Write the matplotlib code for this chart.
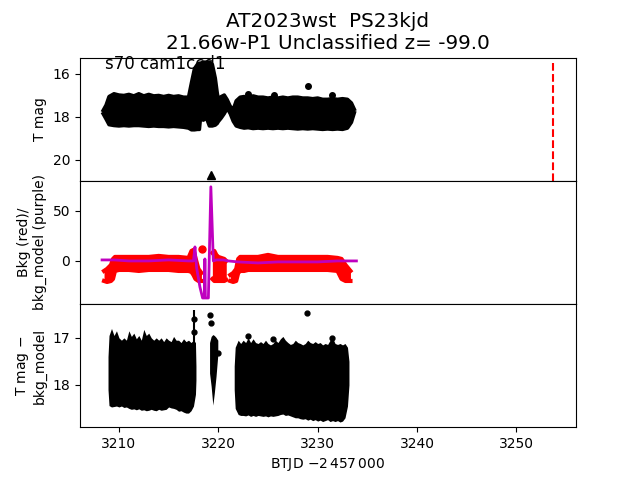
import matplotlib
matplotlib.use("Agg")
import matplotlib.pyplot as plt

# top panel, T mag envelope
t1 = [3208.4, 3208.7, 3209.0, 3209.5, 3210.0, 3210.5, 3211.0, 3211.5, 3212.0, 3212.5, 3213.0, 3213.5, 3214.0,
      3214.5, 3215.0, 3215.5, 3216.0, 3216.5, 3217.0, 3217.3, 3217.6, 3217.9, 3218.1, 3218.2, 3218.5, 3218.8, 3219.1,
      3219.4, 3219.7, 3219.9, 3220.0, 3220.3, 3220.6, 3220.9, 3221.2, 3221.5, 3221.8, 3222.2, 3222.6, 3223.0, 3223.5,
      3224.0, 3224.5, 3225.0, 3225.5, 3226.0, 3226.5, 3227.0, 3227.5, 3228.0, 3228.5, 3229.0, 3229.5, 3230.0,
      3230.5, 3231.0, 3231.5, 3232.0, 3232.5, 3233.0, 3233.4, 3233.7]
t1_hi = [17.7, 17.45, 17.05, 16.92, 16.98, 17.0, 16.95, 17.02, 16.92, 17.02, 16.95, 17.02, 17.0,
         17.05, 17.0, 17.05, 17.02, 17.08, 17.08, 16.4, 15.75, 15.55, 15.5, 15.5, 15.45, 15.45, 15.45,
         15.55, 16.2, 16.9, 17.15, 17.05, 16.98, 17.2, 17.5, 17.65, 17.25, 17.08, 17.05, 17.12, 17.02,
         17.08, 17.08, 17.12, 17.08, 17.12, 17.08, 17.12, 17.08, 17.08, 17.12, 17.12, 17.15, 17.12,
         17.18, 17.18, 17.15, 17.18, 17.15, 17.18, 17.35, 17.65]
t1_lo = [17.85, 18.1, 18.36, 18.4, 18.42, 18.4, 18.42, 18.4, 18.4, 18.42, 18.44, 18.42, 18.44,
         18.44, 18.46, 18.44, 18.46, 18.48, 18.52, 18.6, 18.6, 18.58, 18.58, 18.1, 18.15, 18.05, 18.42,
         18.42, 18.38, 18.3, 18.22, 18.05, 17.85, 17.6, 17.85, 18.2, 18.42, 18.48, 18.52, 18.5, 18.54,
         18.52, 18.54, 18.52, 18.54, 18.52, 18.54, 18.52, 18.54, 18.56, 18.54, 18.56, 18.54, 18.56,
         18.58, 18.56, 18.58, 18.56, 18.58, 18.52, 18.25, 17.8]
t1_out_t = [3223.0, 3225.6, 3229.0, 3231.4]
t1_out_m = [16.92, 16.98, 16.55, 17.0]
lim_t = [3219.3]
lim_m = [20.7]
peak_t = [3253.7, 3253.7]
peak_m = [15.5, 21.0]

# middle panel, background
t2a = [3208.5, 3208.8, 3209.2, 3209.4, 3209.6, 3210.0, 3211.0, 3212.0, 3213.0, 3214.0, 3215.0, 3216.0, 3217.0,
       3217.3, 3217.5, 3217.7, 3218.0, 3218.3]
t2a_hi = [-10, -8, -4, 2, 4, 4, 4, 4, 4, 5, 4, 4, 3, 10, 11, 3, -8, -12]
t2a_lo = [-20, -21, -20, -18, -10, -9, -9, -10, -9, -9, -9, -10, -10, -11, -14, -18, -20, -20]
t2b = [3219.4, 3219.6, 3219.8, 3220.0, 3220.3, 3220.6, 3220.8]
t2b_hi = [8, 10, 6, 4, 3, 2, 0]
t2b_lo = [-18, -20, -20, -20, -20, -20, -19]
t2c = [3221.2, 3221.5, 3221.8, 3222.0, 3222.2, 3222.6, 3223.0, 3224.0, 3225.0, 3226.0, 3227.0, 3228.0, 3229.0,
       3230.0, 3231.0, 3232.0, 3232.4, 3232.8, 3233.3]
t2c_hi = [-14, -12, -8, 2, 4, 4, 4, 4, 6, 4, 4, 4, 4, 4, 4, 3, 2, -4, -10]
t2c_lo = [-20, -21, -20, -12, -10, -10, -9, -9, -9, -9, -9, -9, -9, -9, -9, -10, -18, -20, -20]
red_out_t = [3218.4]
red_out_v = [12]
bkg_t = [3208.3, 3209.5, 3211.0, 3213.0, 3215.0, 3217.0, 3217.5, 3217.65, 3217.82, 3218.15, 3218.42, 3218.6, 3218.65,
         3218.7, 3219.0, 3219.25, 3219.5, 3219.8, 3220.5, 3221.0, 3222.0, 3224.0, 3226.0, 3228.0, 3230.0, 3232.0, 3233.9]
bkg_v = [1, 1, 0, 0, 1, 0, 0, 14, -7, -26, -37, -37, 2, -37, -37, 74, 0, 1, 1, 0, -1, -2, -1, -1, -1, 0, 0]

# bottom panel, T mag minus bkg_model
t3a = [3208.9, 3209.0, 3209.25, 3209.5, 3209.75, 3210.0, 3210.25, 3210.5, 3210.75, 3211.0, 3211.25, 3211.5, 3211.75,
       3212.0, 3212.25, 3212.5, 3212.75, 3213.0, 3213.25, 3213.5, 3213.75, 3214.0, 3214.25, 3214.5, 3214.75, 3215.0,
       3215.25, 3215.5, 3215.75, 3216.0, 3216.25, 3216.5, 3216.75, 3217.0, 3217.25, 3217.5, 3217.7, 3217.75]
t3a_hi = [17.4, 16.95, 16.8, 16.95, 16.85, 17.0, 17.05, 17.0, 17.05, 16.85, 16.97, 16.9, 17.02,
          16.95, 17.05, 16.82, 16.95, 16.9, 17.0, 17.05, 17.0, 17.05, 17.0, 17.08, 17.0, 17.05,
          17.08, 16.97, 17.05, 17.05, 17.1, 17.02, 17.08, 17.05, 17.1, 17.05, 17.1, 17.6]
t3a_lo = [18.1, 18.44, 18.47, 18.46, 18.45, 18.47, 18.45, 18.48, 18.47, 18.5, 18.52, 18.51, 18.53,
          18.51, 18.54, 18.53, 18.55, 18.54, 18.52, 18.54, 18.55, 18.52, 18.54, 18.53, 18.52, 18.47,
          18.49, 18.5, 18.52, 18.56, 18.55, 18.58, 18.6, 18.6, 18.55, 18.45, 18.2, 17.9]
t3b = [3219.12, 3219.28, 3219.45, 3219.6, 3219.77, 3219.95]
t3b_hi = [17.1, 16.97, 16.93, 16.95, 16.99, 17.05]
t3b_lo = [17.75, 18.03, 18.43, 18.17, 17.82, 17.36]
t3c = [3221.6, 3221.7, 3222.0, 3222.25, 3222.5, 3222.75, 3223.0, 3223.25, 3223.5, 3223.75, 3224.0, 3224.25, 3224.5,
       3224.75, 3225.0, 3225.25, 3225.5, 3225.75, 3226.0, 3226.25, 3226.5, 3226.75, 3227.0, 3227.25, 3227.5, 3227.75,
       3228.0, 3228.25, 3228.5, 3228.75, 3229.0, 3229.25, 3229.5, 3229.75, 3230.0, 3230.25, 3230.5, 3230.75, 3231.0,
       3231.25, 3231.5, 3231.75, 3232.0, 3232.25, 3232.5, 3232.75, 3233.0, 3233.15]
t3c_hi = [17.6, 17.2, 17.05, 17.12, 17.05, 17.1, 17.0, 17.1, 17.02, 17.1, 17.12, 17.08, 17.12,
          17.05, 17.12, 17.15, 17.12, 17.05, 17.1, 17.02, 16.97, 17.05, 17.1, 17.14, 17.12, 17.05,
          17.1, 17.12, 17.15, 17.12, 17.05, 17.1, 17.12, 17.08, 17.12, 17.1, 17.15, 17.12, 17.14,
          17.05, 17.0, 17.12, 17.14, 17.12, 17.15, 17.12, 17.2, 17.5]
t3c_lo = [18.1, 18.5, 18.63, 18.65, 18.65, 18.66, 18.64, 18.67, 18.65, 18.67, 18.65, 18.66, 18.67,
          18.66, 18.68, 18.66, 18.67, 18.66, 18.65, 18.63, 18.62, 18.65, 18.64, 18.66, 18.68, 18.7,
          18.7, 18.72, 18.73, 18.72, 18.75, 18.73, 18.76, 18.74, 18.77, 18.75, 18.78, 18.76, 18.74,
          18.78, 18.76, 18.78, 18.76, 18.79, 18.77, 18.7, 18.45, 18.0]
t3_out_t = [3217.55, 3217.55, 3219.12, 3219.28, 3223.0, 3225.5, 3228.94, 3231.4, 3220.0]
t3_out_m = [16.6, 16.87, 16.51, 16.69, 16.95, 17.02, 16.47, 17.0, 17.33]

fig, (ax1, ax2, ax3) = plt.subplots(3, 1, sharex=True)
fig.subplots_adjust(hspace=0)

# top
ax1.fill_between(t1, t1_hi, t1_lo, color="k", lw=0)
ax1.plot(t1, t1_hi, "k-", lw=2.5)
ax1.plot(t1, t1_lo, "k-", lw=2.5)
ax1.plot(t1_out_t, t1_out_m, "ko", ms=4)
ax1.plot(lim_t, lim_m, "k^", ms=6)
ax1.plot(peak_t, peak_m, "r--")
ax1.set_xlim(3206.08, 3256)
ax1.set_ylim(20.97, 15.24)
ax1.set_yticks([16, 18, 20])
ax1.set_ylabel("T mag")
ax1.text(3208.6, 15.75, "s70 cam1ccd1", fontsize=12)
ax1.set_title("AT2023wst  PS23kjd\n21.66w-P1 Unclassified z= -99.0", fontsize=14.4)

# middle
for t, hi, lo in [(t2a, t2a_hi, t2a_lo), (t2b, t2b_hi, t2b_lo), (t2c, t2c_hi, t2c_lo)]:
    ax2.fill_between(t, hi, lo, color="r", lw=0)
    ax2.plot(t, hi, "r-", lw=3)
    ax2.plot(t, lo, "r-", lw=3)
ax2.plot(red_out_t, red_out_v, "ro", ms=5)
ax2.plot(bkg_t, bkg_v, color="m", lw=2)
ax2.set_ylim(-43, 80)
ax2.set_yticks([0, 50])
ax2.set_ylabel("Bkg (red)/\nbkg_model (purple)")

# bottom
for t, hi, lo in [(t3a, t3a_hi, t3a_lo), (t3b, t3b_hi, t3b_lo), (t3c, t3c_hi, t3c_lo)]:
    ax3.fill_between(t, hi, lo, color="k", lw=0)
ax3.vlines([3217.55], 16.4, 17.6, color="k", lw=1.5)
ax3.plot(t3_out_t, t3_out_m, "ko", ms=3.5)
ax3.set_ylim(18.9, 16.28)
ax3.set_yticks([17, 18])
ax3.set_xticks([3210, 3220, 3230, 3240, 3250])
ax3.set_ylabel("T mag $-$\nbkg_model")
ax3.set_xlabel("BTJD $-2\\,457\\,000$")

fig.savefig("out.png", dpi=100)
